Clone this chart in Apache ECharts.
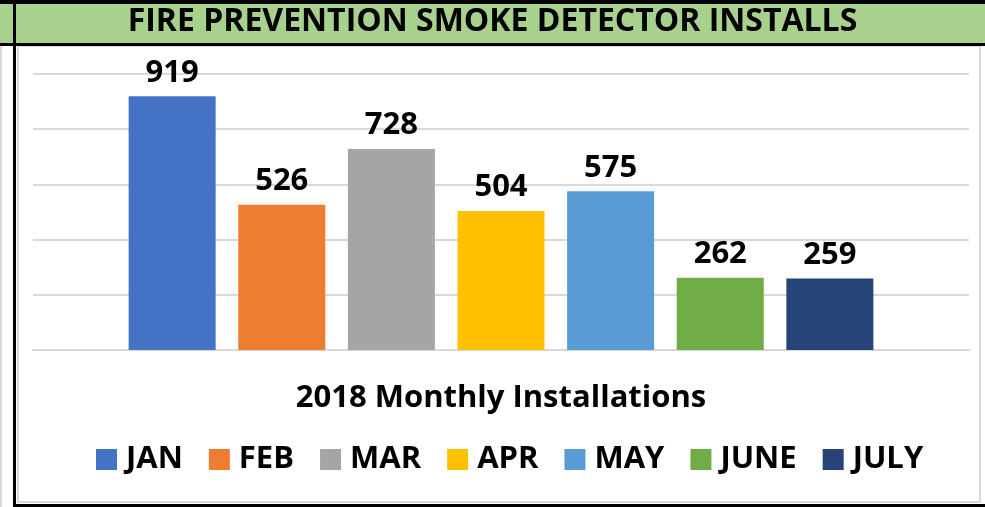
<!DOCTYPE html>
<html>
<head>
<meta charset="utf-8">
<script src="https://cdn.jsdelivr.net/npm/echarts@6/dist/echarts.min.js"></script>
<style>
  html, body { margin: 0; padding: 0; background: #fff; }
  #chart { width: 985px; height: 507px; }
</style>
</head>
<body>
<div id="chart"></div>
<script>
var months = ['JAN', 'FEB', 'MAR', 'APR', 'MAY', 'JUNE', 'JULY'];
var installs = [919, 526, 728, 504, 575, 262, 259];
var colors = ['#4472C4', '#ED7D31', '#A5A5A5', '#FFC000', '#5B9BD5', '#70AD47', '#264478'];
var yTicks = [0, 200, 400, 600, 800, 1000];

var font = '"Open Sans", sans-serif';
var chart = echarts.init(document.getElementById('chart'));

var series = months.map(function (m, i) {
  return {
    name: m,
    type: 'bar',
    data: [installs[i]],
    barWidth: 87,
    barGap: '26%',
    itemStyle: { color: colors[i] },
    label: {
      show: true,
      position: 'top',
      distance: 8,
      color: '#000',
      fontFamily: font,
      fontWeight: 'bold',
      fontSize: 31
    }
  };
});

var option = {
  animation: false,
  backgroundColor: '#fff',
  graphic: [
    // frame and green banner
    { type: 'rect', shape: { x: 18, y: 46, width: 962, height: 456 }, style: { fill: '#fff', stroke: '#d9d9d9', lineWidth: 2 }, z: -10 },
    { type: 'rect', shape: { x: 0, y: 0, width: 985, height: 4 }, style: { fill: '#000' }, z: -5 },
    { type: 'rect', shape: { x: 0, y: 4, width: 985, height: 39 }, style: { fill: '#A9D18E' }, z: -5 },
    { type: 'rect', shape: { x: 0, y: 43, width: 985, height: 3 }, style: { fill: '#000' }, z: -5 },
    { type: 'rect', shape: { x: 13, y: 0, width: 3, height: 507 }, style: { fill: '#000' }, z: -4 },
    { type: 'rect', shape: { x: 13, y: 504, width: 972, height: 3 }, style: { fill: '#000' }, z: -4 },
    { type: 'rect', shape: { x: 0, y: 46, width: 2, height: 461 }, style: { fill: '#d9d9d9' }, z: -4 }
  ],
  title: {
    text: 'FIRE PREVENTION SMOKE DETECTOR INSTALLS',
    left: 'center',
    top: 6,
    padding: [0, 5],
    textStyle: { color: '#000', fontFamily: font, fontWeight: 'bold', fontSize: 32 }
  },
  legend: {
    data: months,
    top: 439,
    left: 91,
    icon: 'rect',
    itemWidth: 21,
    itemHeight: 21,
    itemGap: 26,
    textStyle: { color: '#000', fontFamily: font, fontWeight: 'bold', fontSize: 31, padding: [0, 0, 0, 4] }
  },
  grid: { left: 33, right: 16, top: 74, bottom: 157 },
  xAxis: {
    type: 'category',
    data: [''],
    axisTick: { show: false },
    axisLabel: { show: false },
    axisLine: { lineStyle: { color: '#d9d9d9', width: 2 } },
    name: '2018 Monthly Installations',
    nameLocation: 'middle',
    nameGap: 33,
    nameTextStyle: { color: '#000', fontFamily: font, fontWeight: 'bold', fontSize: 31 }
  },
  yAxis: {
    type: 'value',
    min: yTicks[0],
    max: yTicks[yTicks.length - 1],
    interval: 200,
    axisLabel: { show: false },
    axisLine: { show: false },
    axisTick: { show: false },
    splitLine: { lineStyle: { color: '#d9d9d9', width: 2 } }
  },
  series: series
};
chart.setOption(option);
</script>
</body>
</html>
